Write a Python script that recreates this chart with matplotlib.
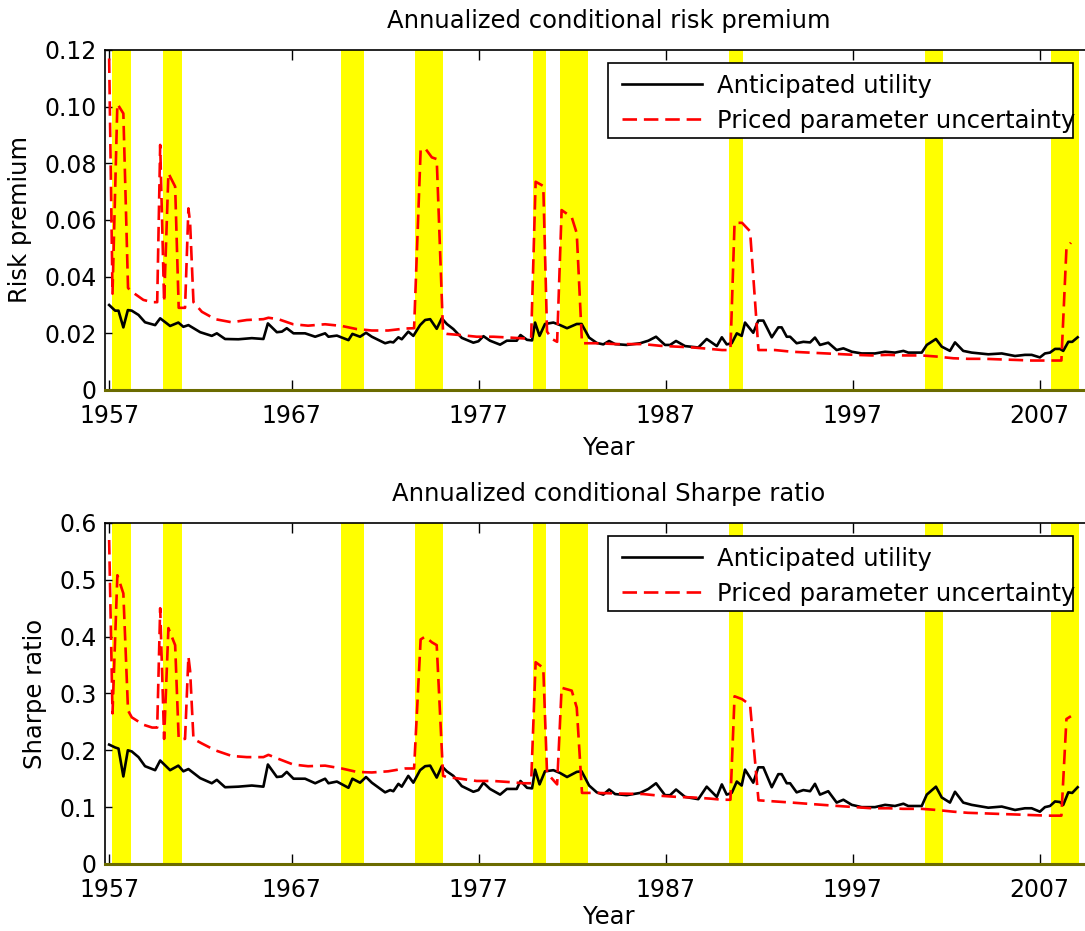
import matplotlib
matplotlib.use("Agg")
import matplotlib.pyplot as plt
from matplotlib.patches import Rectangle

# NBER recession bands (fractional years)
rec_start = [1957.37, 1960.13, 1969.62, 1973.59, 1979.89, 1981.35, 1990.39, 2000.87, 2007.60]
rec_end = [1958.39, 1961.12, 1970.88, 1975.07, 1980.58, 1982.86, 1991.15, 2001.85, 2009.12]

# anticipated utility (black)
au_year = [1957.23, 1957.55, 1957.73, 1957.99, 1958.23, 1958.44, 1958.80, 1959.15, 1959.69, 1959.96,
           1960.49, 1960.93, 1961.20, 1961.47, 1962.10, 1962.72, 1962.99, 1963.43, 1964.14, 1964.86,
           1965.48, 1965.72, 1966.20, 1966.47, 1966.73, 1967.09, 1967.71, 1968.25, 1968.78, 1968.96,
           1969.41, 1970.03, 1970.24, 1970.65, 1970.97, 1971.28, 1971.99, 1972.26, 1972.43, 1972.70,
           1972.88, 1973.23, 1973.50, 1973.86, 1974.13, 1974.40, 1974.75, 1975.02, 1975.29, 1975.64,
           1976.09, 1976.71, 1976.98, 1977.25, 1977.60, 1978.14, 1978.50, 1979.03, 1979.23, 1979.58,
           1979.85, 1980.01, 1980.25, 1980.54, 1980.99, 1981.35, 1981.72, 1982.24, 1982.50, 1982.90,
           1983.31, 1983.66, 1983.97, 1984.29, 1984.91, 1985.63, 1986.07, 1986.48, 1986.96, 1987.23,
           1987.55, 1988.03, 1988.74, 1989.19, 1989.73, 1990.00, 1990.26, 1990.53, 1990.80, 1991.06,
           1991.24, 1991.68, 1991.95, 1992.22, 1992.67, 1993.02, 1993.20, 1993.47, 1993.65, 1994.00,
           1994.36, 1994.72, 1994.98, 1995.25, 1995.69, 1996.14, 1996.50, 1996.95, 1997.48, 1998.19,
           1998.73, 1999.26, 1999.71, 1999.97, 2000.69, 2000.96, 2001.45, 2001.76, 2002.20, 2002.47,
           2002.91, 2003.36, 2004.25, 2004.97, 2005.68, 2006.21, 2006.57, 2007.01, 2007.28, 2007.55,
           2007.82, 2008.08, 2008.26, 2008.53, 2008.74, 2009.03]
au_rp = [.030, .028, .028, .0221, .0282, .028, .0265, .0239, .0229, .0253,
         .0226, .0238, .0223, .0229, .0204, .0191, .020, .018, .0179, .0183,
         .018, .0235, .0204, .0206, .0218, .020, .020, .0188, .020, .0188,
         .0192, .0176, .0198, .0188, .0202, .0188, .0165, .017, .0168, .0186,
         .0179, .0206, .0191, .0229, .0247, .025, .0216, .0253, .0233, .0215,
         .0184, .0167, .0172, .019, .0174, .016, .0174, .0174, .0194, .0177,
         .0175, .0238, .0191, .0233, .0238, .0229, .0218, .0233, .0233, .0185,
         .0166, .0161, .0173, .0162, .0159, .0165, .0174, .0188, .0159, .0159,
         .0173, .0155, .015, .018, .0155, .0186, .0161, .0165, .020, .0191,
         .0238, .0202, .0245, .0245, .0186, .0221, .0221, .0188, .0188, .0165,
         .017, .0168, .0185, .0159, .0167, .0141, .0147, .0135, .0129, .0129,
         .0135, .0132, .0138, .0132, .0132, .0159, .018, .0153, .0138, .0168,
         .0138, .0132, .0126, .0129, .012, .0124, .0124, .0115, .0129, .0132,
         .0145, .0145, .0138, .017, .017, .0186]
au_sr = [.210, .205, .203, .154, .200, .198, .188, .172, .165, .182,
         .165, .173, .163, .167, .151, .142, .148, .135, .136, .138,
         .136, .175, .153, .154, .162, .150, .150, .142, .150, .142,
         .145, .134, .150, .143, .153, .143, .126, .130, .128, .141,
         .136, .155, .143, .165, .172, .173, .152, .172, .163, .155,
         .137, .127, .130, .143, .132, .122, .132, .132, .146, .134,
         .133, .166, .140, .163, .165, .160, .153, .162, .163, .138,
         .126, .122, .131, .123, .121, .125, .132, .142, .121, .121,
         .131, .118, .114, .136, .118, .140, .122, .125, .145, .138,
         .166, .143, .170, .170, .135, .158, .158, .142, .142, .126,
         .130, .128, .141, .122, .128, .108, .113, .104, .100, .100,
         .104, .102, .106, .102, .102, .122, .136, .117, .108, .127,
         .108, .104, .099, .101, .095, .098, .098, .092, .100, .102,
         .110, .109, .104, .126, .125, .135]

# priced parameter uncertainty (red dashed)
ppu_year = [1957.23, 1957.41, 1957.67, 1957.99, 1958.24, 1958.44, 1959.06, 1959.53, 1959.80, 1959.96,
            1960.17, 1960.40, 1960.76, 1960.95, 1961.29, 1961.47, 1961.56, 1961.74, 1962.19, 1962.90,
            1963.79, 1964.59, 1965.48, 1965.75, 1966.28, 1967.07, 1967.87, 1968.78, 1969.67, 1970.47,
            1971.28, 1972.15, 1973.06, 1973.54, 1973.89, 1974.13, 1974.49, 1974.75, 1975.09, 1975.29,
            1976.00, 1976.89, 1977.78, 1978.67, 1979.39, 1979.80, 1980.04, 1980.45, 1980.65, 1980.92,
            1981.19, 1981.43, 1981.97, 1982.24, 1982.52, 1983.31, 1984.38, 1985.79, 1986.70, 1987.59,
            1988.46, 1989.37, 1990.01, 1990.46, 1990.68, 1991.08, 1991.51, 1991.96, 1992.84, 1993.74,
            1996.21, 1997.12, 1998.01, 1998.90, 1999.69, 2000.69, 2001.49, 2002.38, 2003.16, 2004.07,
            2004.88, 2005.77, 2006.57, 2007.46, 2008.16, 2008.43, 2008.67]
ppu_rp = [.117, .034, .101, .0976, .036, .0347, .0318, .031, .031, .0865,
          .031, .0765, .0718, .029, .029, .0641, .059, .031, .0276, .025,
          .0239, .0247, .025, .0255, .025, .0232, .0227, .0232, .0226, .0215,
          .021, .021, .0217, .0218, .0847, .0853, .0821, .0815, .0201, .0198,
          .0194, .0188, .0188, .0185, .0182, .0182, .0735, .072, .0206, .018,
          .017, .0635, .061, .0553, .0165, .0165, .0162, .0162, .0156, .0153,
          .015, .0145, .0141, .0141, .059, .059, .056, .0141, .0141, .0135,
          .0127, .0124, .0122, .0124, .0122, .0122, .0118, .0112, .011, .011,
          .0108, .0106, .0104, .0104, .0104, .050, .052]
ppu_sr = [.57, .265, .508, .476, .27, .258, .245, .24, .24, .45,
          .22, .415, .385, .22, .22, .365, .34, .22, .212, .20,
          .19, .188, .188, .192, .185, .175, .172, .173, .168, .162,
          .161, .163, .168, .168, .395, .40, .39, .385, .155, .153,
          .15, .146, .146, .144, .142, .142, .355, .345, .16, .15,
          .14, .31, .305, .275, .125, .125, .124, .123, .12, .118,
          .117, .115, .113, .113, .295, .29, .28, .112, .11, .108,
          .102, .10, .098, .098, .097, .097, .095, .092, .09, .089,
          .088, .087, .086, .085, .085, .255, .26]

year_ticks = [1957.23, 1967, 1977, 1987, 1997, 2007]
year_labels = ["1957", "1967", "1977", "1987", "1997", "2007"]

plt.rcParams["font.family"] = "DejaVu Sans"
FS = 17.5
TICK_FS = 17


def draw_panel(ax, au, ppu, title, ylabel, ymax, yticks, ylabels, xlabelpad):
    for s, e in zip(rec_start, rec_end):
        ax.axvspan(s, e, color="#ffff00", lw=0, zorder=0)
    l1, = ax.plot(au_year, au, color="black", lw=1.9, zorder=3)
    l2, = ax.plot(ppu_year, ppu, color="red", lw=1.9, ls=(0, (5.5, 2.6)), zorder=3)

    ax.set_xlim(1957.01, 2010.92)
    ax.set_ylim(0, ymax)
    ax.set_xticks(year_ticks)
    ax.set_xticklabels(year_labels)
    ax.set_yticks(yticks)
    ax.set_yticklabels(ylabels)
    ax.tick_params(direction="in", labelsize=TICK_FS, top=True, right=True, width=1)
    ax.tick_params(axis="x", length=7, pad=10)
    ax.tick_params(axis="y", length=5, pad=6)
    for sp in ["left", "top"]:
        ax.spines[sp].set_linewidth(1.2)
    ax.spines["bottom"].set_color("#6b6b00")
    ax.spines["bottom"].set_linewidth(2.2)

    ax.set_title(title, fontsize=FS, pad=16)
    ax.set_xlabel("Year", fontsize=FS, labelpad=xlabelpad)
    ax.set_ylabel(ylabel, fontsize=FS, labelpad=9)

    # legend box (text runs past the frame as in the original)
    ax.add_patch(Rectangle((0.499, 0.741), 0.461, 0.221, transform=ax.transAxes,
                           facecolor="white", edgecolor="black", lw=1.2, zorder=4))
    leg = ax.legend([l1, l2], ["Anticipated utility", "Priced parameter uncertainty"],
                    loc="upper left", bbox_to_anchor=(0.513, 0.93), frameon=False,
                    fontsize=FS, handlelength=3.3, handletextpad=0.62,
                    labelspacing=0.45, borderpad=0, borderaxespad=0)
    leg.set_zorder(5)


fig = plt.figure(figsize=(10.85, 9.31), dpi=100)
ax1 = fig.add_axes([0.0968, 0.5811, 0.929, 0.3652])
ax2 = fig.add_axes([0.0968, 0.0720, 0.929, 0.3663])

draw_panel(ax1, au_rp, ppu_rp, "Annualized conditional risk premium", "Risk premium",
           0.12, [0, 0.02, 0.04, 0.06, 0.08, 0.10, 0.12],
           ["0", "0.02", "0.04", "0.06", "0.08", "0.10", "0.12"], 6)
draw_panel(ax2, au_sr, ppu_sr, "Annualized conditional Sharpe ratio", "Sharpe ratio",
           0.6, [0, 0.1, 0.2, 0.3, 0.4, 0.5, 0.6],
           ["0", "0.1", "0.2", "0.3", "0.4", "0.5", "0.6"], 2)

fig.savefig("out.png", dpi=100)
